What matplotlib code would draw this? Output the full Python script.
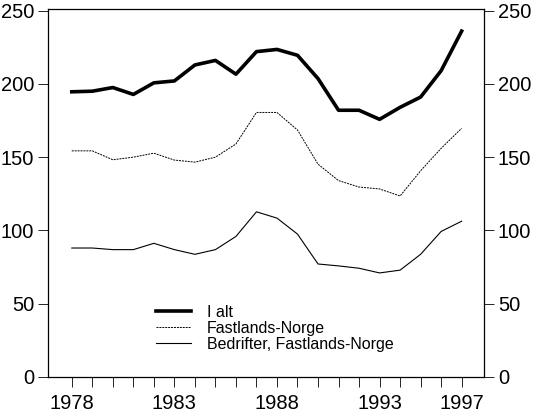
import matplotlib
matplotlib.use("Agg")
import matplotlib.pyplot as plt

years = list(range(1978, 1998))
i_alt = [194.6, 195, 197.5, 192.8, 200.7, 202, 212.9, 216, 206.6, 222, 223.5, 219.5, 203.6, 182, 182, 175.8, 184, 191, 209, 236]
fastland = [154.3, 154.3, 148.2, 150, 152.7, 148, 146.6, 150, 159, 180.5, 180.5, 168.5, 145.2, 134, 129.6, 128.3, 123.5, 140.7, 156, 169.7]
bedrift = [88, 88, 86.9, 86.9, 91.2, 86.9, 83.7, 86.9, 95.9, 112.7, 108.4, 97.5, 77.1, 75.8, 74.2, 71, 72.9, 83.7, 99.3, 106.3]
xlabels = [1978, 1983, 1988, 1993, 1997]
yticks = [0, 50, 100, 150, 200, 250]

plt.rcParams['font.family'] = ['Liberation Sans', 'DejaVu Sans']
fig = plt.figure(figsize=(5.35, 4.15), dpi=100)
ax = fig.add_axes([0.0897, 0.0916, 0.815, 0.8864])
ax.plot(years, i_alt, color='black', lw=2.6, label='I alt')
ax.plot(years, fastland, color='black', lw=0.7, ls=(0, (2, 1)), label='Fastlands-Norge')
ax.plot(years, bedrift, color='black', lw=0.8, label='Bedrifter, Fastlands-Norge')
ax.set_xlim(1976.84, 1998.09)
ax.set_ylim(0, 251)
ax.set_xticks(xlabels)
ax.set_xticks(years, minor=True)
ax.set_yticks(yticks)
ax.tick_params(axis='both', which='both', direction='out', length=7, width=0.6, labelsize=14.5, colors='black')
ax.tick_params(axis='y', right=True, labelright=True, pad=3)
ax.tick_params(axis='x', pad=5)
for s in ax.spines.values():
    s.set_linewidth(0.9)
ax.legend(loc='lower left', bbox_to_anchor=(0.215, 0.03), frameon=False, fontsize=11.5,
          handlelength=2.2, labelspacing=0.05, handletextpad=1.0)
fig.savefig('out.png', dpi=100)
